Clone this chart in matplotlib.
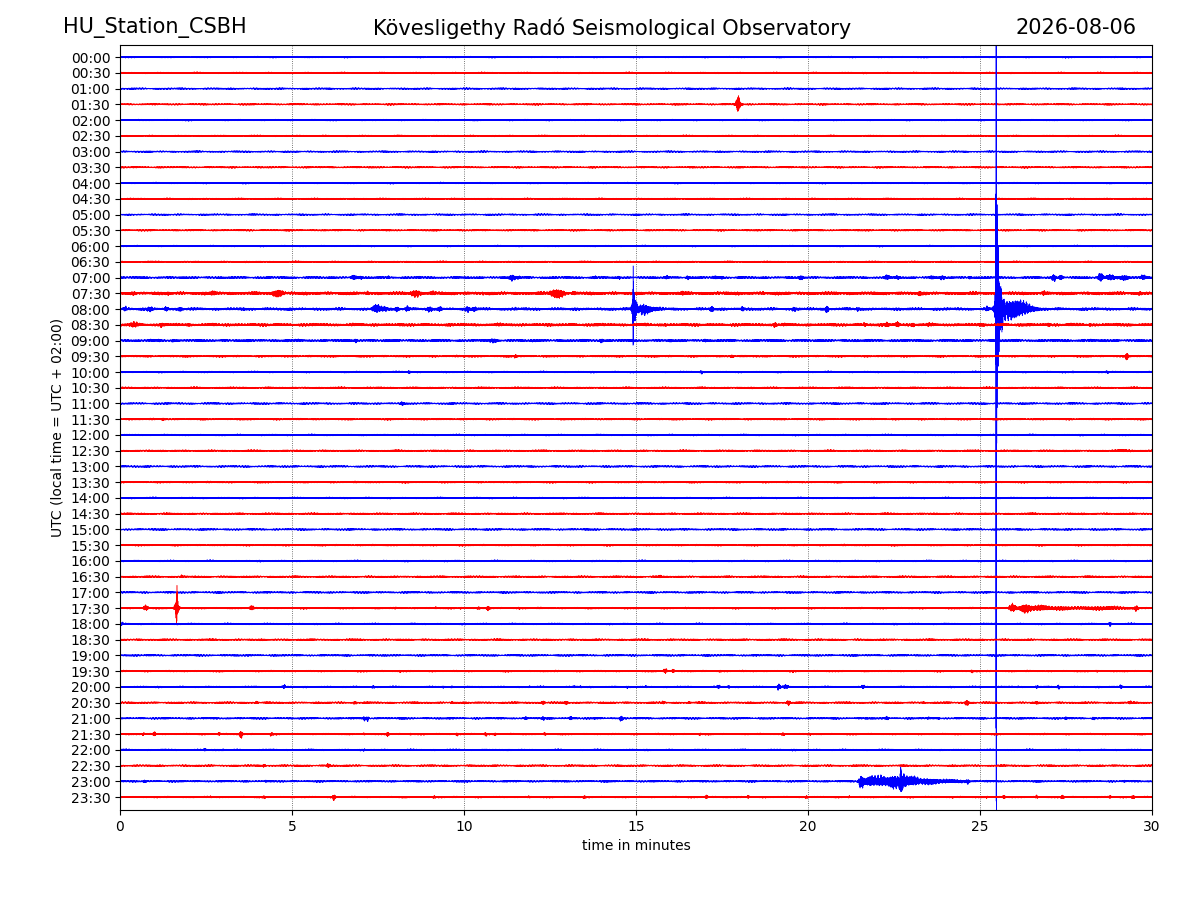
import numpy as np
import matplotlib
matplotlib.use("Agg")
import matplotlib.pyplot as plt

# ---------------- data read from the helicorder ----------------
station = "HU_Station_CSBH"
observatory = "Kövesligethy Radó Seismological Observatory"
date_label = "2026-08-06"
row_labels = [f"{h:02d}:{m:02d}" for h in range(24) for m in (0, 30)]
row_colors = ["blue" if i % 2 == 0 else "red" for i in range(48)]
x_ticks = [0, 5, 10, 15, 20, 25, 30]

# background noise half-amplitude per row (row-spacing units)
row_noise = [0.055] * 14 + [0.07, 0.10, 0.09, 0.095, 0.075, 0.065] + [0.06] * 28

# events: row -> list of (minute, half-amplitude, width in minutes)
events = {
    3: [(17.97, 0.57, 0.03), (17.97, 0.2, 0.1)],
    14: [(6.8, 0.19, 0.08), (7.0, 0.13, 0.06), (7.8, 0.12, 0.05), (8.7, 0.1, 0.05),
         (11.4, 0.22, 0.08), (11.6, 0.13, 0.06), (13.8, 0.13, 0.06), (14.5, 0.13, 0.05),
         (15.9, 0.15, 0.06), (16.5, 0.15, 0.05), (17.3, 0.15, 0.08), (17.5, 0.12, 0.06),
         (19.8, 0.19, 0.06), (22.3, 0.19, 0.08), (22.6, 0.16, 0.08), (23.6, 0.16, 0.08),
         (23.9, 0.16, 0.08), (24.7, 0.13, 0.05), (27.15, 0.29, 0.05), (27.35, 0.22, 0.05),
         (28.5, 0.32, 0.06), (28.8, 0.22, 0.12), (29.2, 0.2, 0.12), (29.75, 0.2, 0.08)],
    15: [(0.4, 0.16, 0.1), (1.4, 0.16, 0.05), (2.7, 0.19, 0.1), (4.6, 0.29, 0.15),
         (7.2, 0.16, 0.05), (8.6, 0.25, 0.15), (9.1, 0.16, 0.1), (10.55, 0.13, 0.05),
         (12.7, 0.35, 0.18), (13.2, 0.15, 0.06), (16.35, 0.19, 0.05), (17.4, 0.13, 0.06),
         (18.7, 0.13, 0.06), (23.25, 0.19, 0.06), (26.85, 0.19, 0.05), (28.15, 0.13, 0.05),
         (29.65, 0.16, 0.06)],
    16: [(0.15, 0.19, 0.05), (0.87, 0.22, 0.08), (1.35, 0.19, 0.06), (1.75, 0.16, 0.08),
         (3.6, 0.13, 0.05), (7.45, 0.32, 0.1), (7.7, 0.2, 0.08), (8.05, 0.19, 0.06),
         (8.35, 0.22, 0.06), (9.0, 0.2, 0.08), (9.3, 0.22, 0.06), (10.1, 0.22, 0.06),
         (10.3, 0.22, 0.06), (11.5, 0.13, 0.05),
         (14.92, 4.5, 0.006), (14.95, 1.0, 0.05), (15.2, 0.35, 0.15), (15.6, 0.15, 0.25),
         (17.2, 0.25, 0.05), (18.1, 0.19, 0.05), (19.6, 0.19, 0.06), (20.55, 0.29, 0.04),
         (21.45, 0.16, 0.05), (25.2, 0.16, 0.05),
         (25.47, 75.0, 0.004), (25.48, 24.0, 0.008), (25.5, 6.0, 0.03), (25.56, 2.0, 0.07),
         (25.9, 0.6, 0.28), (26.3, 0.25, 0.35), (28.1, 0.13, 0.05)],
    17: [(0.4, 0.22, 0.12), (1.2, 0.19, 0.06), (2.0, 0.13, 0.06), (14.05, 0.13, 0.05),
         (15.85, 0.13, 0.05), (19.05, 0.22, 0.05), (21.65, 0.16, 0.06), (22.3, 0.22, 0.06),
         (22.6, 0.22, 0.06), (23.05, 0.16, 0.06), (23.5, 0.16, 0.06), (25.1, 0.13, 0.05),
         (27.0, 0.16, 0.06), (27.65, 0.13, 0.06), (28.2, 0.13, 0.05)],
    18: [(1.15, 0.13, 0.05), (1.55, 0.13, 0.05), (4.85, 0.13, 0.05), (6.85, 0.16, 0.05),
         (10.85, 0.16, 0.12), (14.0, 0.16, 0.06), (16.0, 0.13, 0.05), (17.0, 0.13, 0.05),
         (28.0, 0.13, 0.05)],
    19: [(10.0, 0.1, 0.05), (11.5, 0.16, 0.04), (17.8, 0.13, 0.05), (29.27, 0.29, 0.04)],
    20: [(8.4, 0.13, 0.05), (16.9, 0.13, 0.05), (27.7, 0.1, 0.05), (28.7, 0.13, 0.05)],
    22: [(8.2, 0.16, 0.05)],
    23: [(1.25, 0.13, 0.05)],
    25: [(29.2, 0.1, 0.3)],
    33: [(1.8, 0.13, 0.04), (15.7, 0.13, 0.05)],
    35: [(0.75, 0.22, 0.06), (1.65, 1.08, 0.02), (1.65, 0.35, 0.06), (3.83, 0.19, 0.06),
         (8.0, 0.1, 0.04), (9.18, 0.1, 0.04), (9.9, 0.1, 0.04), (10.42, 0.13, 0.04),
         (10.7, 0.19, 0.04), (11.6, 0.1, 0.04),
         (25.95, 0.32, 0.08), (26.3, 0.3, 0.12), (26.7, 0.2, 0.2), (27.3, 0.13, 0.3),
         (28.2, 0.1, 0.5), (29.0, 0.1, 0.5), (29.55, 0.16, 0.04)],
    36: [(0.05, 0.13, 0.05), (28.78, 0.16, 0.04)],
    39: [(8.14, 0.1, 0.04), (15.85, 0.19, 0.05), (16.08, 0.16, 0.04), (17.44, 0.1, 0.04),
         (19.57, 0.1, 0.04), (24.77, 0.13, 0.04), (28.4, 0.1, 0.04)],
    40: [(4.77, 0.16, 0.04), (7.36, 0.13, 0.04), (9.4, 0.1, 0.04), (9.65, 0.1, 0.04),
         (11.9, 0.1, 0.04), (13.2, 0.1, 0.04), (13.4, 0.1, 0.04), (14.75, 0.1, 0.04),
         (15.3, 0.1, 0.04), (17.4, 0.16, 0.04), (17.7, 0.13, 0.04), (19.15, 0.25, 0.04),
         (19.35, 0.16, 0.08), (21.6, 0.16, 0.04), (25.0, 0.1, 0.04), (26.1, 0.1, 0.04),
         (26.65, 0.13, 0.04), (27.28, 0.16, 0.04), (29.1, 0.16, 0.04)],
    41: [(3.98, 0.13, 0.04), (6.83, 0.13, 0.05), (9.65, 0.1, 0.04), (12.3, 0.16, 0.05),
         (12.97, 0.16, 0.05), (15.8, 0.13, 0.04), (16.55, 0.1, 0.04), (16.96, 0.1, 0.04),
         (19.43, 0.19, 0.05), (23.35, 0.1, 0.04), (24.62, 0.22, 0.05), (26.65, 0.13, 0.05),
         (29.36, 0.13, 0.04)],
    42: [(7.1, 0.19, 0.03), (7.2, 0.19, 0.03), (11.8, 0.13, 0.04), (12.3, 0.16, 0.04),
         (13.1, 0.16, 0.04), (13.8, 0.1, 0.04), (14.57, 0.22, 0.04), (21.7, 0.1, 0.04),
         (22.3, 0.16, 0.04), (23.5, 0.1, 0.04), (23.8, 0.1, 0.04), (27.5, 0.13, 0.04),
         (28.3, 0.13, 0.04)],
    43: [(0.67, 0.13, 0.04), (1.0, 0.19, 0.04), (2.88, 0.13, 0.04), (3.52, 0.29, 0.04),
         (4.4, 0.16, 0.04), (7.1, 0.1, 0.04), (7.78, 0.19, 0.04), (8.45, 0.1, 0.04),
         (9.8, 0.13, 0.04), (10.63, 0.16, 0.04), (10.9, 0.13, 0.04), (12.35, 0.13, 0.04),
         (16.86, 0.13, 0.04), (19.28, 0.13, 0.04), (20.05, 0.1, 0.04)],
    44: [(2.47, 0.13, 0.04), (3.0, 0.1, 0.04), (7.1, 0.1, 0.04)],
    45: [(4.19, 0.13, 0.04), (6.06, 0.19, 0.04)],
    46: [(0.72, 0.13, 0.04), (4.24, 0.1, 0.04),
         (21.55, 0.45, 0.06), (21.8, 0.38, 0.12), (22.15, 0.4, 0.15), (22.5, 0.45, 0.12),
         (22.7, 0.83, 0.015), (22.75, 0.5, 0.08), (23.0, 0.3, 0.15), (23.4, 0.19, 0.25),
         (23.9, 0.13, 0.3), (24.4, 0.1, 0.2), (24.65, 0.13, 0.04), (29.2, 0.1, 0.04)],
    47: [(2.64, 0.1, 0.04), (4.19, 0.13, 0.04), (6.22, 0.22, 0.04), (9.13, 0.13, 0.04),
         (11.9, 0.1, 0.04), (13.5, 0.13, 0.04), (17.05, 0.16, 0.04), (18.26, 0.13, 0.04),
         (19.96, 0.13, 0.04), (21.2, 0.1, 0.04), (24.2, 0.1, 0.04), (25.2, 0.1, 0.04),
         (25.7, 0.16, 0.04), (26.65, 0.13, 0.04), (27.4, 0.16, 0.05), (28.78, 0.13, 0.04),
         (29.45, 0.16, 0.05)],
}

# ---------------- drawing ----------------
fig = plt.figure(figsize=(12, 9), dpi=100)
ax = fig.add_axes([0.1, 0.1, 0.86, 0.85])

n_samp = 18000
t = np.linspace(0, 30, n_samp)
idx = np.arange(n_samp, dtype=float)

for r in range(48):
    k = idx + r * 7919.37
    carrier = (0.5 * np.sin(2.17 * k) + 0.35 * np.sin(2.83 * k + 1.3)
               + 0.3 * np.sin(1.41 * k + 0.7) + 0.25 * np.sin(0.77 * k + 2.1))
    carrier /= 1.2
    mod = 1.0 + 0.2 * np.sin(0.0113 * k + r) * np.sin(0.00371 * k + 2 * r) \
        + 0.1 * np.sin(0.0291 * k + 3 * r)
    env = np.full(n_samp, row_noise[r]) * mod
    bumps = np.zeros(n_samp)
    for (m0, a, w) in events.get(r, []):
        bumps += a * np.exp(-0.5 * ((t - m0) / w) ** 2)
    env = np.maximum(env, bumps)
    y = r - env * carrier
    ax.plot(t, y, color=row_colors[r], lw=0.35)

ax.set_xlim(0, 30)
ax.set_ylim(47.82, -0.77)
ax.set_yticks(range(48))
ax.set_yticklabels(row_labels)
ax.set_xticks(x_ticks)
for xv in x_ticks[1:-1]:
    ax.axvline(xv, color="0.3", lw=0.6, ls=":", zorder=0)
ax.set_xlabel("time in minutes")
ax.set_ylabel("UTC (local time = UTC + 02:00)")

fig.text(0.0525, 0.969, station, fontsize=15, va="center", ha="left")
fig.text(0.51, 0.969, observatory, fontsize=15, va="center", ha="center")
fig.text(0.9475, 0.969, date_label, fontsize=15, va="center", ha="right")

fig.savefig("out.png", dpi=100)
